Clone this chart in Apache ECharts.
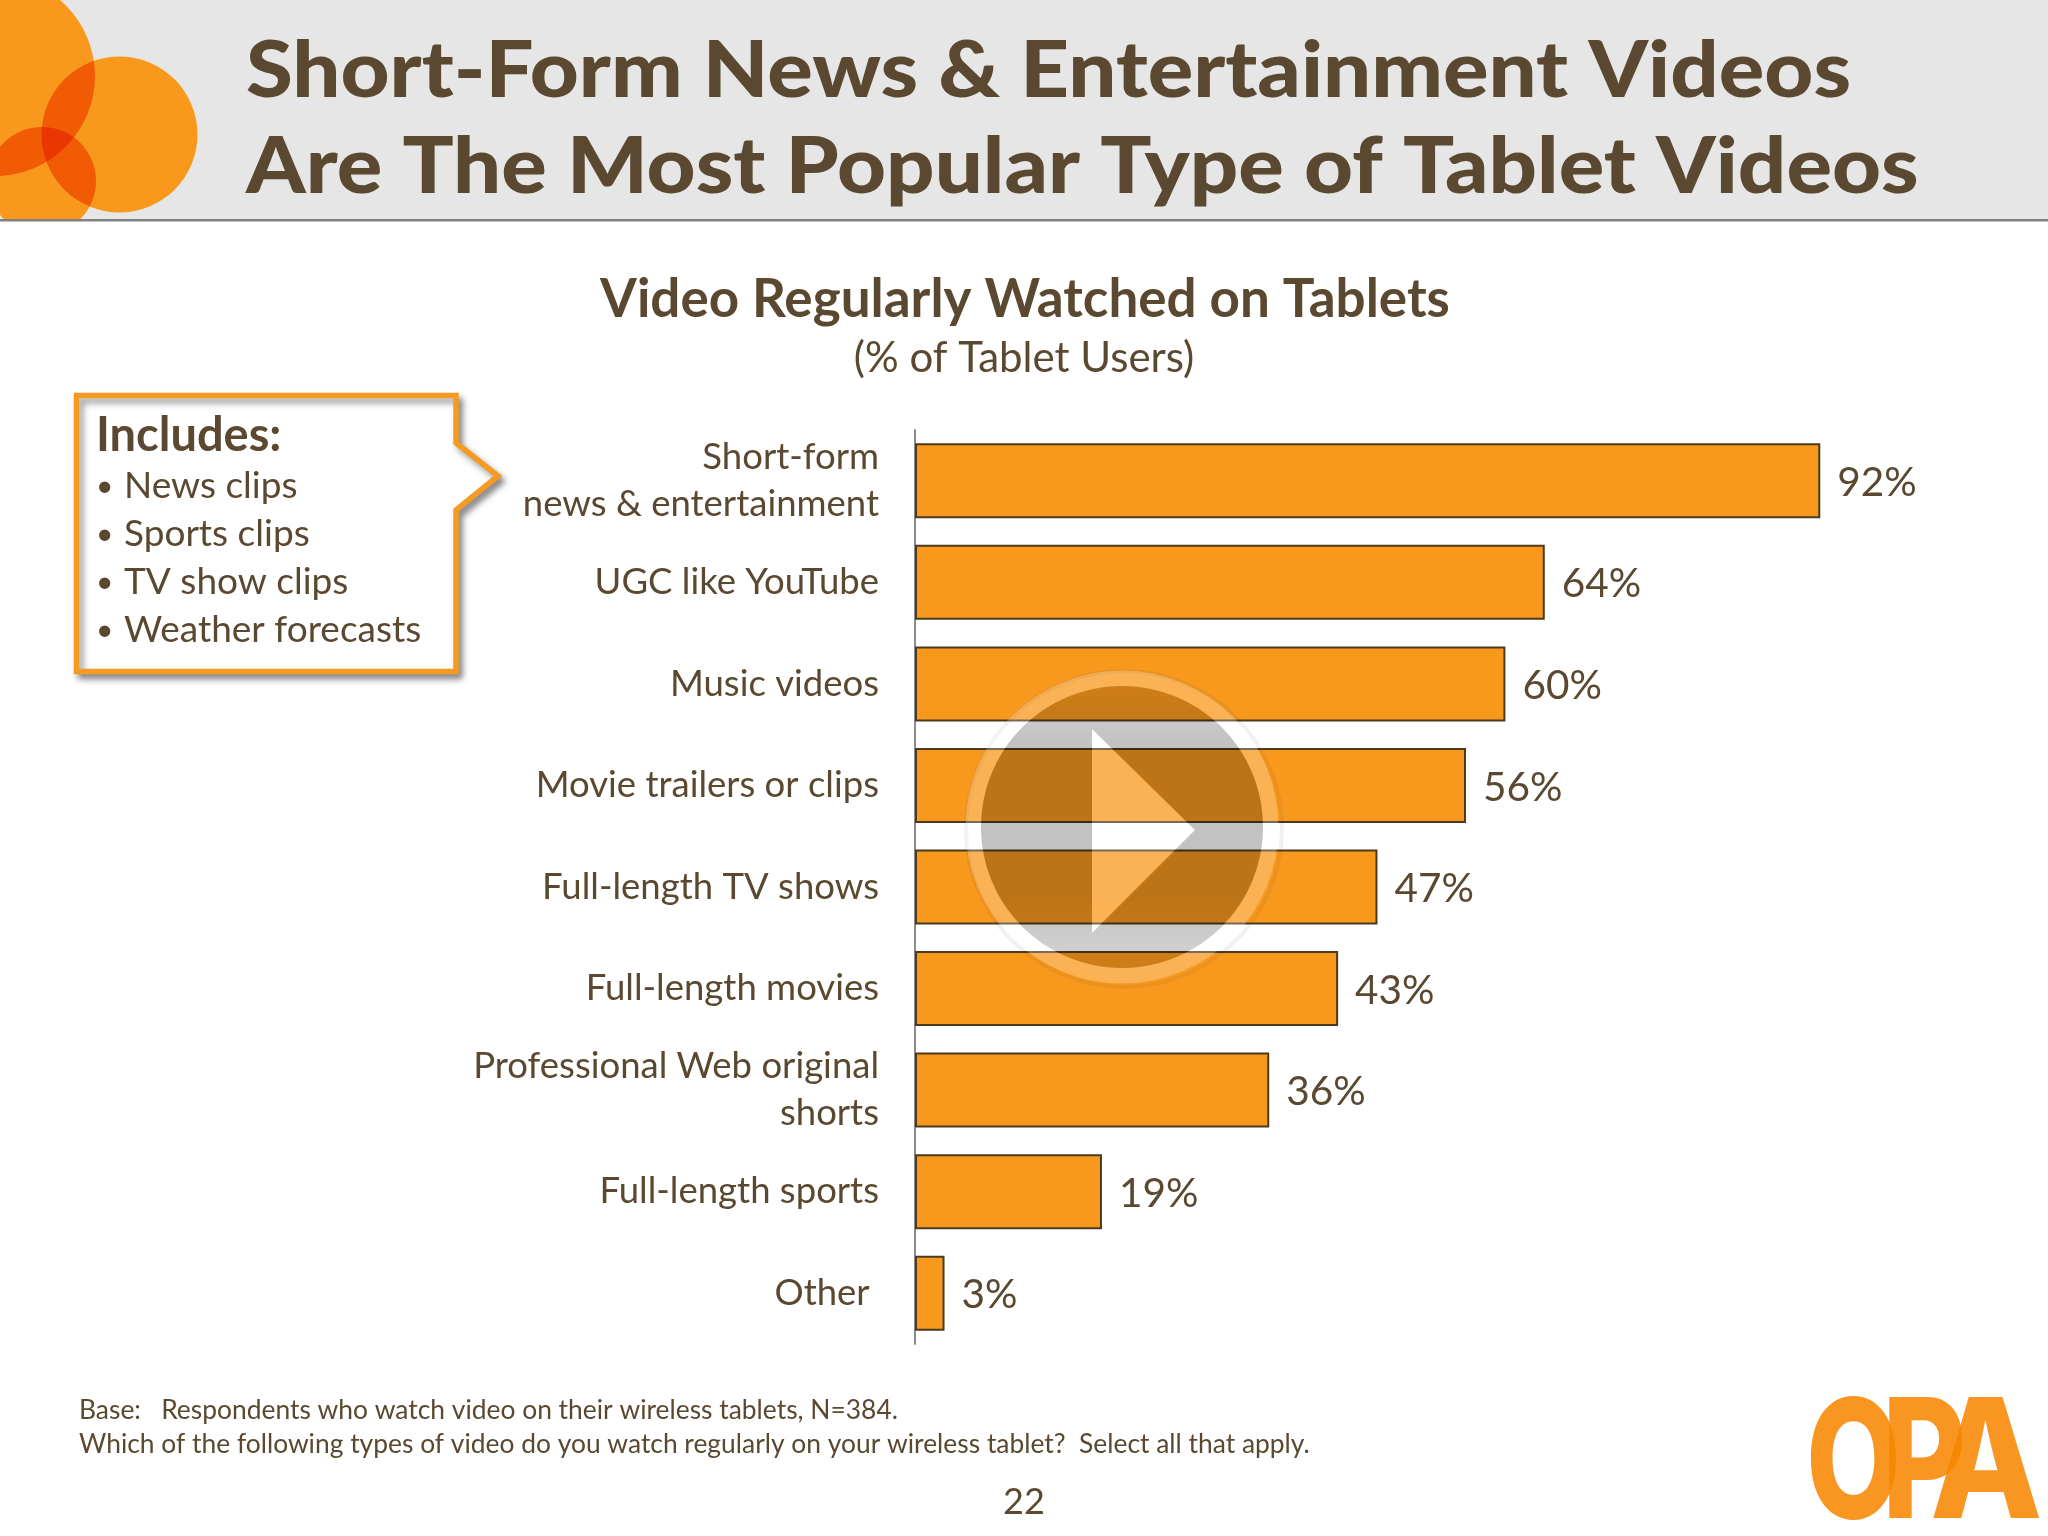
<!DOCTYPE html>
<html>
<head>
<meta charset="utf-8">
<style>html,body{margin:0;padding:0;background:#fff}#chart{width:2048px;height:1536px}</style>
<script src="https://cdn.jsdelivr.net/npm/echarts@6/dist/echarts.min.js"></script>
</head>
<body>
<div id="chart"></div>
<script>
var categories = ['Short-form\nnews & entertainment', 'UGC like YouTube', 'Music videos', 'Movie trailers or clips',
  'Full-length TV shows', 'Full-length movies', 'Professional Web original\nshorts', 'Full-length sports', 'Other '];
var shares = [92, 64, 60, 56, 47, 43, 36, 19, 3];
var headingLines = ['Short-Form News & Entertainment Videos', 'Are The Most Popular Type of Tablet Videos'];
var chartTitle = 'Video Regularly Watched on Tablets';
var chartSubtitle = '(% of Tablet Users)';
var includesTitle = 'Includes:';
var includes = ['News clips', 'Sports clips', 'TV show clips', 'Weather forecasts'];
var footnotes = ['Base:   Respondents who watch video on their wireless tablets, N=384.',
  'Which of the following types of video do you watch regularly on your wireless tablet?  Select all that apply.'];
var pageNumber = '22';

var BROWN = '#5a4930';
var ORANGE = '#f8981d';
var FONT = 'Lato';

function text(x, y, str, size, extra) {
  var style = { x: x, y: y, text: str, fill: BROWN, font: size + 'px ' + FONT, textAlign: 'left', textVerticalAlign: 'middle' };
  for (var k in extra) style[k] = extra[k];
  return { type: 'text', z: 5, style: style };
}

function heading(y, str) {
  return { type: 'text', z: 5, x: 246, y: y, scaleX: 1.09, style: { x: 0, y: 0, text: str, fill: BROWN,
    font: '900 78px ' + FONT, textAlign: 'left', textVerticalAlign: 'middle' } };
}

function blob(cx, cy, r, fill, blend) {
  var el = { type: 'circle', z: 1, shape: { cx: cx, cy: cy, r: r }, style: { fill: fill } };
  if (blend) el.style.blend = blend;
  return el;
}

function logoLetter(x, y, ch, sx) {
  return { type: 'text', z: 5, x: x, y: y, scaleX: sx, style: { x: 0, y: 0, text: ch, fill: 'rgba(247,134,0,0.87)',
    font: '800 166px Inter', textAlign: 'left', textVerticalAlign: 'middle' } };
}

// disc outline with the play triangle cut out, as one keyhole polygon
function discPoints(cx, cy, r, tri) {
  var pts = [];
  for (var a = 0; a <= 180; a++) {
    pts.push([cx + r * Math.cos(a * Math.PI / 90), cy + r * Math.sin(a * Math.PI / 90)]);
  }
  return pts.concat(tri, [tri[0], pts[0]]);
}

var PLAY_X = 1122, PLAY_Y = 827;
var playTriangle = [[1195, 830], [1092, 729], [1092, 933]];

var graphics = [
  { type: 'rect', z: 0, shape: { x: 0, y: 0, width: 2048, height: 219 }, style: { fill: '#e6e6e6' } },
  blob(-5, 76, 100, '#fff'), blob(119.5, 134.5, 78, '#fff'), blob(42, 181, 54, '#fff'),
  blob(-5, 76, 100, ORANGE, 'multiply'), blob(119.5, 134.5, 78, ORANGE, 'multiply'), blob(42, 181, 54, ORANGE, 'multiply'),
  { type: 'rect', z: 2, shape: { x: 0, y: 219, width: 300, height: 30 }, style: { fill: '#fff' } },
  { type: 'rect', z: 3, shape: { x: 0, y: 219, width: 2048, height: 2.5 }, style: { fill: '#808080' } },
  heading(72, headingLines[0]),
  heading(168, headingLines[1]),
  { type: 'polygon', z: 4,
    shape: { points: [[76.5, 395.5], [456, 395.5], [456, 443], [498, 476], [456, 510], [456, 671.5], [76.5, 671.5]] },
    style: { fill: '#fff', stroke: '#f59a23', lineWidth: 5.5, lineJoin: 'miter',
      shadowBlur: 6, shadowOffsetX: 4, shadowOffsetY: 5, shadowColor: 'rgba(70,70,70,0.55)' } },
  text(96, 436, includesTitle, 47, { font: 'bold 47px ' + FONT }),
  text(1024, 1502, pageNumber, 36, { textAlign: 'center' }),
  logoLetter(1806, 1468, 'O', 0.74), logoLetter(1882, 1468, 'P', 0.78), logoLetter(1930, 1468, 'A', 0.88),
  // play button overlay
  { type: 'ring', z: 9, shape: { cx: PLAY_X + 2, cy: PLAY_Y + 2, r: 160, r0: 156 }, style: { fill: 'rgba(60,60,60,0.07)' } },
  { type: 'ring', z: 10, shape: { cx: PLAY_X, cy: PLAY_Y, r: 156.5, r0: 141 }, style: { fill: 'rgba(255,255,255,0.25)' } },
  { type: 'polygon', z: 10, shape: { points: playTriangle }, style: { fill: 'rgba(255,255,255,0.25)' } },
  { type: 'polygon', z: 10, shape: { points: discPoints(PLAY_X, PLAY_Y, 141, playTriangle) },
    style: { fill: { type: 'linear', x: 0, y: 0, x2: 0, y2: 1, colorStops: [
      { offset: 0, color: 'rgba(0,0,0,0.17)' }, { offset: 0.2, color: 'rgba(0,0,0,0.24)' },
      { offset: 0.75, color: 'rgba(0,0,0,0.24)' }, { offset: 1, color: 'rgba(0,0,0,0.17)' }] } } }
];

includes.forEach(function (item, i) {
  var y = 486.5 + i * 48;
  graphics.push(text(96, y, '\u2022', 30));
  graphics.push(text(124, y, item, 37));
});
footnotes.forEach(function (line, i) {
  graphics.push(text(79, 1410 + i * 34, line, 26.4));
});

var chart = echarts.init(document.getElementById('chart'), null, { renderer: 'canvas' });
chart.setOption({
  backgroundColor: '#fff',
  animation: false,
  textStyle: { fontFamily: FONT, color: BROWN },
  title: [
    { text: chartTitle, left: 1020, top: 268, textAlign: 'center', textStyle: { fontFamily: FONT, fontSize: 53, fontWeight: 'bold', color: BROWN } },
    { text: chartSubtitle, left: 1019, top: 332, textAlign: 'center', textStyle: { fontFamily: FONT, fontSize: 42, fontWeight: 'normal', color: BROWN } }
  ],
  grid: { left: 915, top: 430, width: 984, height: 914 },
  xAxis: { type: 'value', min: 0, max: 100, show: false },
  yAxis: {
    type: 'category', inverse: true, data: categories,
    axisLine: { lineStyle: { color: '#8c8c8c', width: 2 } },
    axisTick: { show: false },
    axisLabel: { margin: 36, fontFamily: FONT, fontSize: 36.5, color: BROWN, lineHeight: 47, align: 'right', padding: [4, 0, 0, 0] }
  },
  series: [{
    type: 'bar', data: shares, barWidth: 75,
    itemStyle: { color: ORANGE, borderColor: '#4a3a1e', borderWidth: 2 },
    label: { show: true, position: 'right', distance: 17, offset: [0, 2], formatter: '{c}%', fontFamily: FONT, fontSize: 40.5, color: BROWN }
  }],
  graphic: graphics
});
</script>
</body>
</html>
